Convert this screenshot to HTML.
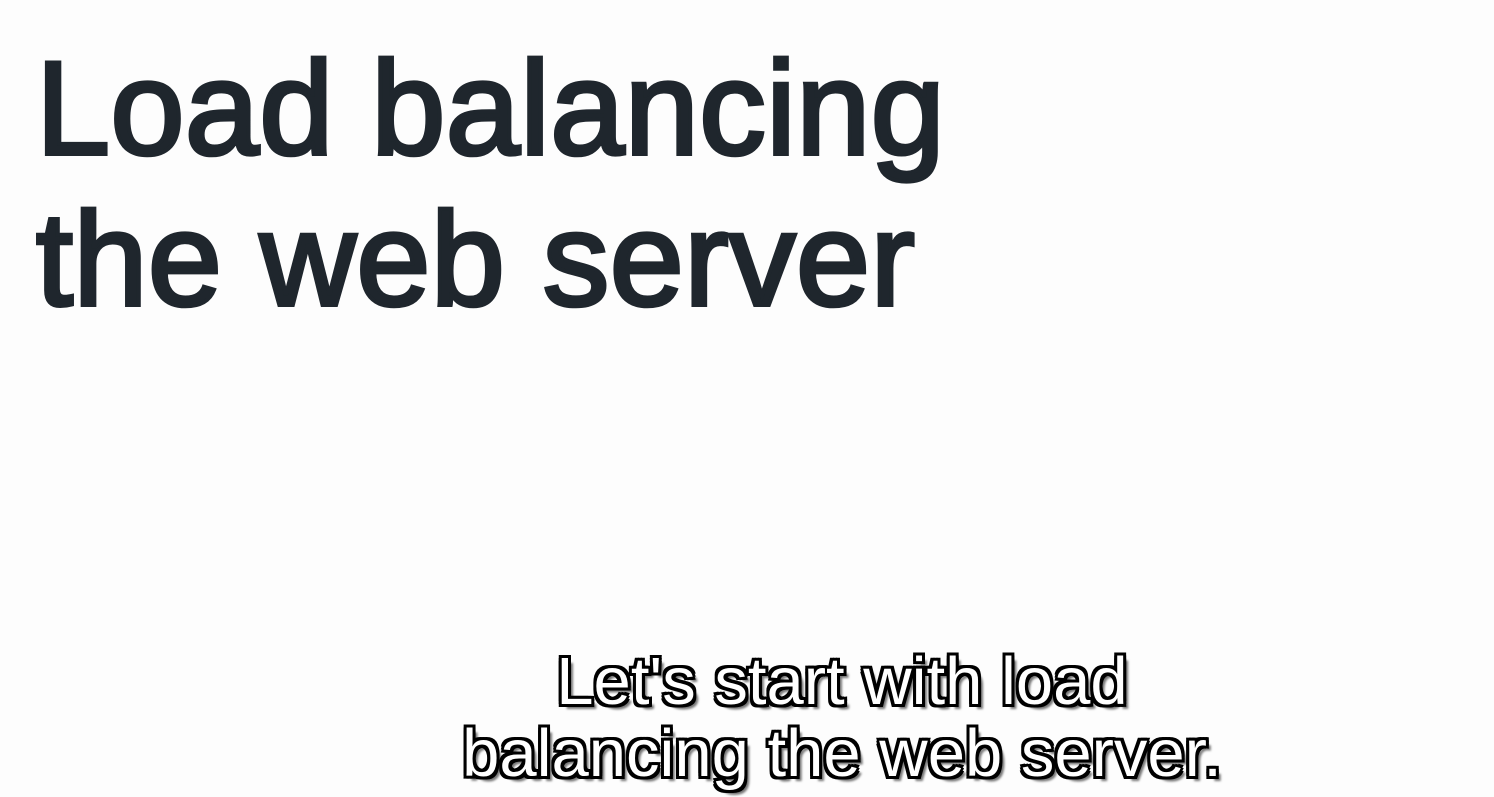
<!DOCTYPE html>
<html><head><meta charset="utf-8"><style>
html,body{margin:0;padding:0;background:#fdfdfd;}
body{width:1494px;height:797px;position:relative;overflow:hidden;font-family:"Liberation Sans",sans-serif;}
.t{position:absolute;left:36px;font-size:133px;color:#1f262d;white-space:nowrap;-webkit-text-stroke:4px #1f262d;line-height:1;letter-spacing:0.5px;}
.s{position:absolute;left:0;width:1684px;text-align:center;font-size:67px;color:#fff;white-space:nowrap;line-height:1;
-webkit-text-stroke:1.5px #fff;paint-order:stroke fill;
text-shadow:-3px -3px 0 #000,3px -3px 0 #000,-3px 3px 0 #000,3px 3px 0 #000,0 -3px 0 #000,0 3px 0 #000,-3px 0 0 #000,3px 0 0 #000,5px 5px 2px #777;}
</style></head><body>
<div class="t" style="top:43px">Load balancing</div>
<div class="t" style="top:194px">the web server</div>
<div class="s" style="top:648px">Let's start with load</div>
<div class="s" style="top:720px">balancing the web server.</div>
</body></html>
